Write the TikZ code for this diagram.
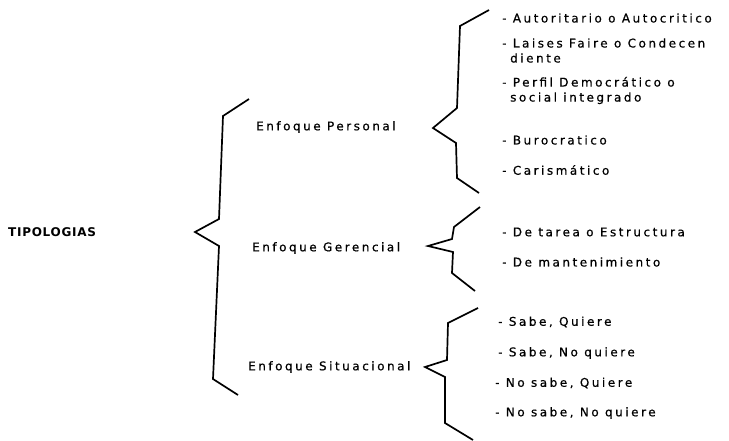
\documentclass[tikz,border=0pt]{standalone}
\usepackage{fontspec}
\setmainfont{DejaVu Sans}[LetterSpace=21,FakeBold=0.6]
\newfontfamily\titlefont{DejaVu Sans}[LetterSpace=6]
\tikzset{
  brace/.style={line width=1.7pt, line join=miter},
  lbl/.style={anchor=west, inner sep=0pt, font=\fontsize{12}{13}\selectfont},
  item/.style={anchor=west, inner sep=0pt, align=left, font=\fontsize{12}{15}\selectfont},
}
\begin{document}
\begin{tikzpicture}[x=1pt,y=-1pt]
\useasboundingbox (0,0) rectangle (729,440);

% root label
\node[anchor=west, inner sep=0pt, font=\titlefont\bfseries\fontsize{12}{13}\selectfont] (tip) at (8,232) {TIPOLOGIAS};

% main brace
\draw[brace] (249,99) -- (223,116) -- (219,219) -- (195,232) -- (219,246) -- (213,379) -- (238,395);

% second level
\node[lbl] (per) at (256,127) {Enfoque Personal};
\node[lbl] (ger) at (252,248) {Enfoque Gerencial};
\node[lbl] (sit) at (248,367) {Enfoque Situacional};

% braces of the second level
\draw[brace] (489,10) -- (460,26) -- (457,108) -- (433,128) -- (456,143) -- (457,178) -- (479,193);
\draw[brace] (480,207) -- (454,227) -- (452,239) -- (428,246) -- (453,252) -- (452,273) -- (475,291);
\draw[brace] (478,308) -- (448,323) -- (447,360) -- (425,367) -- (445,377) -- (445,423) -- (473,440);

% items: Enfoque Personal
\node[item] (p1) at (502,18) {- Autoritario o Autocritico};
\node[item] (p2) at (502,50.5) {- Laises Faire o Condecen\\\hspace*{8pt}diente};
\node[item] (p3) at (502,90.5) {- Perfil Democrático o\\\hspace*{8pt}social integrado};
\node[item] (p4) at (502,140) {- Burocratico};
\node[item] (p5) at (502,170) {- Carismático};

% items: Enfoque Gerencial
\node[item] (g1) at (502,232) {- De tarea o Estructura};
\node[item] (g2) at (502,262) {- De mantenimiento};

% items: Enfoque Situacional
\node[item] (s1) at (498,322) {- Sabe, Quiere};
\node[item] (s2) at (498,353) {- Sabe, No quiere};
\node[item] (s3) at (495,383) {- No sabe, Quiere};
\node[item] (s4) at (495,413) {- No sabe, No quiere};
\end{tikzpicture}
\end{document}
